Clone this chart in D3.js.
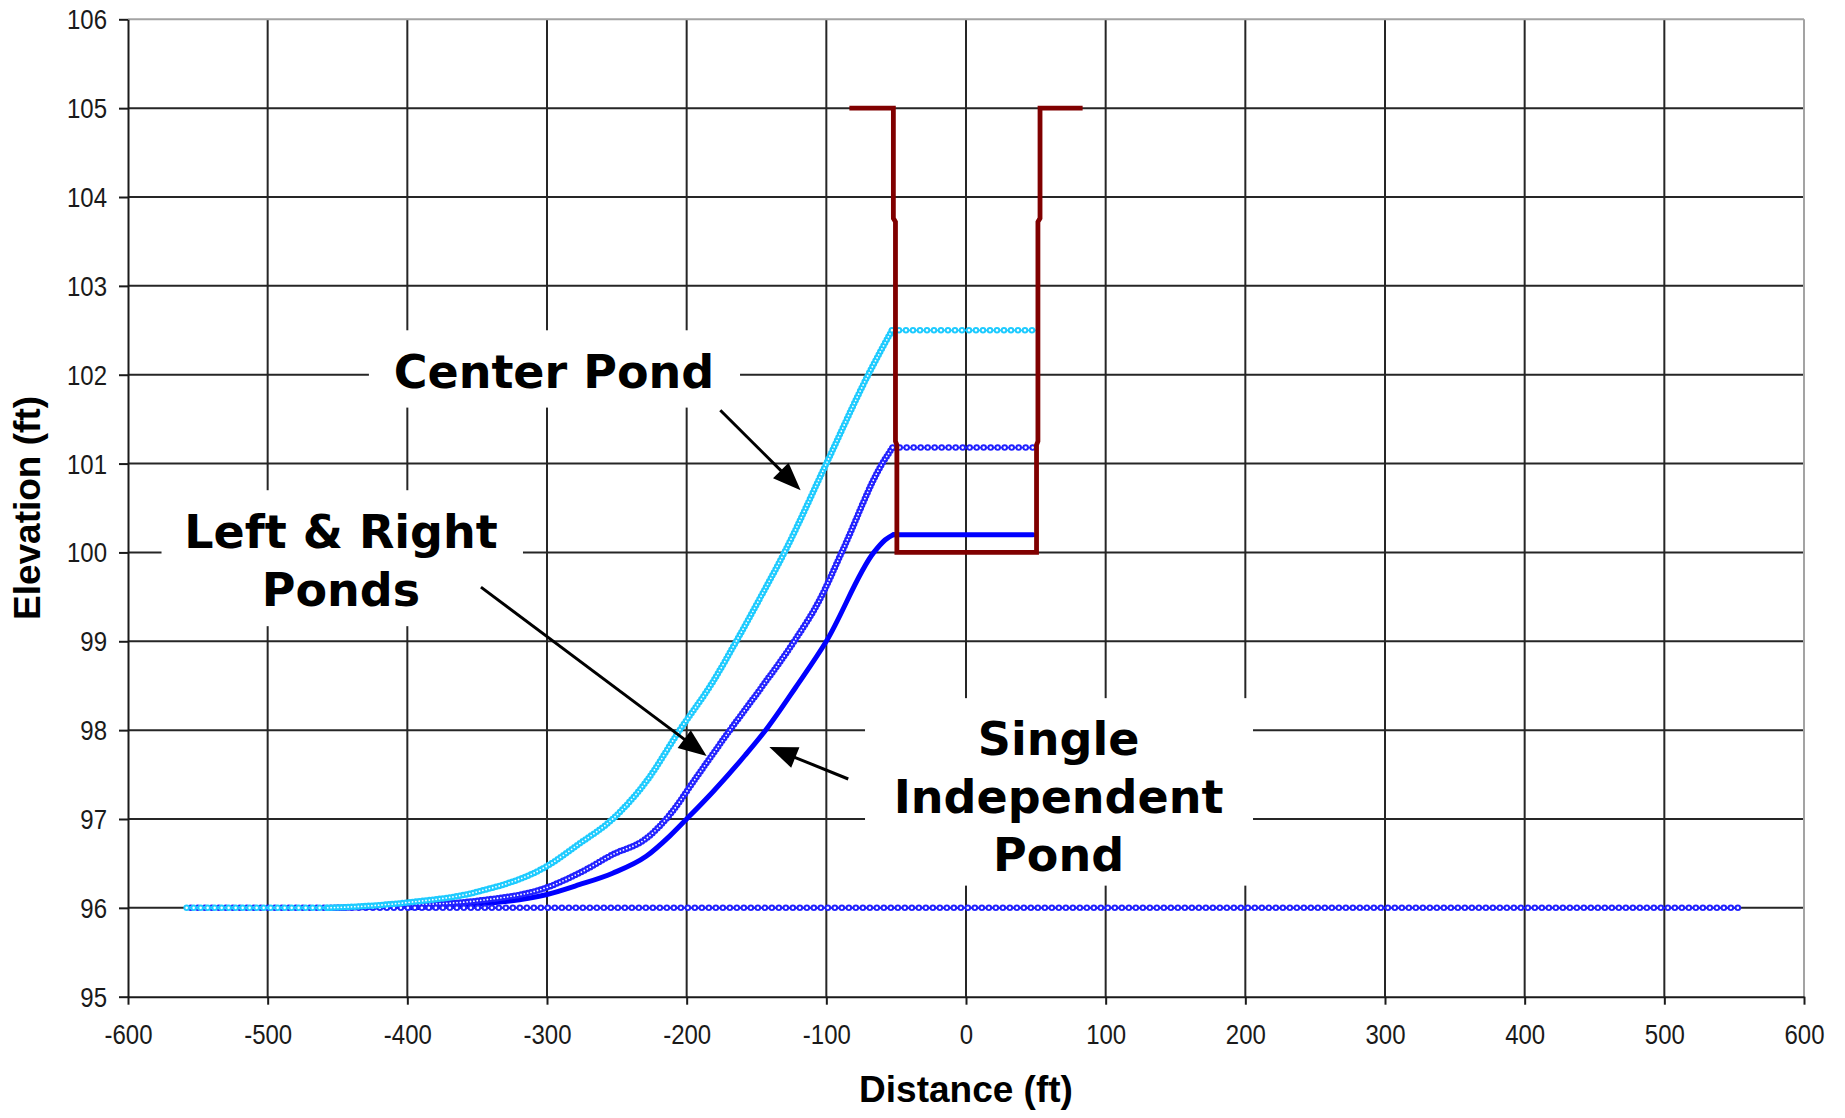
<!DOCTYPE html>
<html>
<head>
<meta charset="utf-8">
<script src="https://cdn.jsdelivr.net/npm/d3@7"></script>
<style>
  html, body { margin: 0; padding: 0; background: #fff; }
  svg { display: block; }
</style>
</head>
<body>
<svg id="chart" width="1845" height="1118"></svg>
<script>
// ---- Axis ticks ----
const xTicks = [-600, -500, -400, -300, -200, -100, 0, 100, 200, 300, 400, 500, 600];
const yTicks = [95, 96, 97, 98, 99, 100, 101, 102, 103, 104, 105, 106];

// ---- Pond cross-section (berm top, walls, floor) ----
const pondX = [-83.5, -52, -52, -50.5, -50.5, -49.5, -49.5, 50.5, 50.5, 51.5, 51.5, 53, 53, 83.5];
const pondY = [105, 105, 103.76, 103.72, 101.25, 101.21, 100, 100, 101.21, 101.25, 103.72, 103.76, 105, 105];

// ---- Initial water table ----
const tableX = [-555, 555];
const tableY = [96, 96];

// ---- Groundwater mound profiles (ft, ft) ----
const singleX = [-400, -350, -300, -277, -253, -229, -212, -200, -181, -158, -142, -122, -100, -66, -58, -52, 48];
const singleY = [96, 96.04, 96.15, 96.26, 96.39, 96.58, 96.81, 97.0, 97.31, 97.72, 98.03, 98.48, 99.0, 100.0, 100.14, 100.2, 100.2];

const pairX = [-452, -400, -350, -300, -277, -253, -229, -212, -193, -169, -146, -123, -105, -89, -60, -52.5, 50];
const pairY = [96, 96.03, 96.08, 96.23, 96.39, 96.6, 96.78, 97.05, 97.47, 98.0, 98.49, 99.0, 99.46, 100.0, 101.0, 101.18, 101.18];

const centerX = [-558, -457, -430, -400, -350, -300, -277, -253, -229, -205, -181, -164.5, -148, -130, -100, -70, -53, 50];
const centerY = [96, 96, 96.02, 96.06, 96.18, 96.47, 96.72, 97.0, 97.42, 98.0, 98.55, 99.0, 99.47, 100.0, 101.0, 102.0, 102.5, 102.5];

// ---- Callouts (placed in data units) ----
const notes = [
  { lines: ["Center Pond"], tx: -295, ty: 101.85,
    box: [-427.5, -161.8, 102.5, 101.63], from: [-175.9, 101.6], to: [-118.4, 100.7] },
  { lines: ["Left & Right", "Ponds"], tx: -447.5, ty: 100.05,
    box: [-576, -317.2, 100.7, 99.17], from: [-347.3, 99.61], to: [-185.7, 97.71] },
  { lines: ["Single", "Independent", "Pond"], tx: 66.3, ty: 97.72,
    box: [-72.3, 205.5, 98.36, 96.25], from: [-84.3, 97.45], to: [-140.8, 97.81] }
];

const TICK_FONT = "'Liberation Sans', Arial, Helvetica, sans-serif";
const NOTE_FONT = "'DejaVu Sans', Verdana, sans-serif";
const INK = "#1a1a1a";

const svg = d3.select("#chart");
const x = d3.scaleLinear().domain([-600, 600]).range([128, 1804]);
const y = d3.scaleLinear().domain([95, 106]).range([996.7, 19.3]);

svg.append("rect").attr("width", 1845).attr("height", 1118).attr("fill", "#fff");

// ---- Gridlines ----
const grid = svg.append("g").attr("stroke", "#262626").attr("stroke-width", 2);
grid.selectAll("line.h").data(yTicks.filter(d => d > 95 && d < 106)).join("line")
  .attr("class", "h")
  .attr("x1", x(-600)).attr("x2", x(600))
  .attr("y1", d => y(d)).attr("y2", d => y(d));
grid.selectAll("line.v").data(xTicks.filter(d => d > -600 && d < 600)).join("line")
  .attr("class", "v")
  .attr("x1", d => x(d)).attr("x2", d => x(d))
  .attr("y1", y(106)).attr("y2", y(95));

// plot-area frame (top and right)
const frame = svg.append("g").attr("stroke", "#a3a3a3").attr("stroke-width", 2);
frame.append("line").attr("x1", x(-600)).attr("x2", x(600)).attr("y1", y(106)).attr("y2", y(106));
frame.append("line").attr("x1", x(600)).attr("x2", x(600)).attr("y1", y(106)).attr("y2", y(95));

// ---- Axes ----
const gx = svg.append("g")
  .attr("transform", `translate(0,${y(95)})`)
  .call(d3.axisBottom(x).tickValues(xTicks).tickFormat(d => String(d)).tickSize(8).tickSizeOuter(0));
const gy = svg.append("g")
  .attr("transform", `translate(${x(-600)},0)`)
  .call(d3.axisLeft(y).tickValues(yTicks).tickFormat(d => String(d)).tickSize(9).tickSizeOuter(0));

[gx, gy].forEach(g => {
  g.attr("font-family", TICK_FONT).attr("font-size", 24).attr("color", INK);
  g.select(".domain").attr("stroke-width", 2);
  g.selectAll(".tick line").attr("stroke-width", 2);
});
gx.selectAll(".tick text").attr("y", null).attr("dy", null)
  .attr("transform", "translate(0,47) scale(1,1.14)");
gy.selectAll(".tick text").attr("x", null).attr("dy", null)
  .attr("transform", "translate(-21,9.5) scale(1,1.14)");

// axis titles
svg.append("text")
  .attr("x", (x(-600) + x(600)) / 2).attr("y", 1101.5)
  .attr("text-anchor", "middle")
  .attr("font-family", TICK_FONT).attr("font-weight", "bold").attr("font-size", 37)
  .attr("fill", "#000")
  .text("Distance (ft)");
svg.append("text")
  .attr("transform", `translate(40,${(y(95) + y(106)) / 2}) rotate(-90)`)
  .attr("text-anchor", "middle")
  .attr("font-family", TICK_FONT).attr("font-weight", "bold").attr("font-size", 37)
  .attr("fill", "#000")
  .text("Elevation (ft)");

// ---- Callout boxes and text ----
const noteG = svg.append("g");
notes.forEach(n => {
  const [bx0, bx1, by0, by1] = n.box;
  noteG.append("rect")
    .attr("x", x(bx0)).attr("y", y(by0))
    .attr("width", x(bx1) - x(bx0)).attr("height", y(by1) - y(by0))
    .attr("fill", "#fff");
  const t = noteG.append("text")
    .attr("x", x(n.tx)).attr("y", y(n.ty))
    .attr("text-anchor", "middle")
    .attr("font-family", NOTE_FONT).attr("font-weight", "bold").attr("font-size", 46)
    .attr("fill", "#000");
  n.lines.forEach((ln, i) => {
    t.append("tspan").attr("x", x(n.tx)).attr("dy", i === 0 ? 0 : 58).text(ln);
  });
});

// ---- Series ----
const lineLinear = d3.line().x(d => x(d[0])).y(d => y(d[1]));
const lineSmooth = d3.line().curve(d3.curveMonotoneX).x(d => x(d[0])).y(d => y(d[1]));

// split a profile into level runs and rising runs
function splitRuns(xs, ys) {
  const pts = xs.map((v, i) => [v, ys[i]]);
  const out = [];
  let cur = [pts[0]], flat = null;
  for (let i = 1; i < pts.length; i++) {
    const f = pts[i][1] === pts[i - 1][1];
    if (flat === null || f === flat) { cur.push(pts[i]); flat = f; }
    else { out.push({ flat, pts: cur }); cur = [pts[i - 1], pts[i]]; flat = f; }
  }
  out.push({ flat, pts: cur });
  return out;
}

// line with small hollow circle markers (packed tighter where the profile rises)
function drawMarked(xs, ys, color) {
  const g = svg.append("g").attr("fill", "none");
  splitRuns(xs, ys).forEach(r => {
    const d = (r.flat ? lineLinear : lineSmooth)(r.pts);
    const gap = r.flat ? 7 : 3.4;
    const inner = r.flat ? 2.6 : 1.8;
    g.append("path").attr("d", d).attr("stroke", color).attr("stroke-width", 1.8);
    g.append("path").attr("d", d).attr("stroke", color).attr("stroke-width", 6.5)
      .attr("stroke-linecap", "round").attr("stroke-dasharray", `0 ${gap}`);
    g.append("path").attr("d", d).attr("stroke", "#fff").attr("stroke-width", inner)
      .attr("stroke-linecap", "round").attr("stroke-dasharray", `0 ${gap}`);
  });
}

function drawSolid(xs, ys, color) {
  const g = svg.append("g").attr("fill", "none");
  splitRuns(xs, ys).forEach(r => {
    g.append("path").attr("d", (r.flat ? lineLinear : lineSmooth)(r.pts))
      .attr("stroke", color).attr("stroke-width", 5)
      .attr("stroke-linecap", "round").attr("stroke-linejoin", "round");
  });
}

drawSolid(singleX, singleY, "#0000ff");
drawMarked(pairX, pairY, "#2222ff");
drawMarked(tableX, tableY, "#2222ff");
drawMarked(centerX, centerY, "#1ecbff");

svg.append("path")
  .attr("d", lineLinear(pondX.map((v, i) => [v, pondY[i]])))
  .attr("fill", "none").attr("stroke", "#800000").attr("stroke-width", 4.8)
  .attr("stroke-linejoin", "miter");

// ---- Callout arrows ----
const arrowG = svg.append("g");
notes.forEach(n => {
  const p1 = [x(n.from[0]), y(n.from[1])];
  const p2 = [x(n.to[0]), y(n.to[1])];
  const len = Math.hypot(p2[0] - p1[0], p2[1] - p1[1]);
  const ux = (p2[0] - p1[0]) / len, uy = (p2[1] - p1[1]) / len;
  const headLen = 28, headHalf = 11;
  const bx = p2[0] - ux * headLen, by = p2[1] - uy * headLen;
  arrowG.append("line")
    .attr("x1", p1[0]).attr("y1", p1[1])
    .attr("x2", bx + ux * 2).attr("y2", by + uy * 2)
    .attr("stroke", "#000").attr("stroke-width", 3);
  arrowG.append("polygon")
    .attr("points", [
      p2,
      [bx - uy * headHalf, by + ux * headHalf],
      [bx + uy * headHalf, by - ux * headHalf]
    ].map(p => p.join(",")).join(" "))
    .attr("fill", "#000");
});
</script>
</body>
</html>
